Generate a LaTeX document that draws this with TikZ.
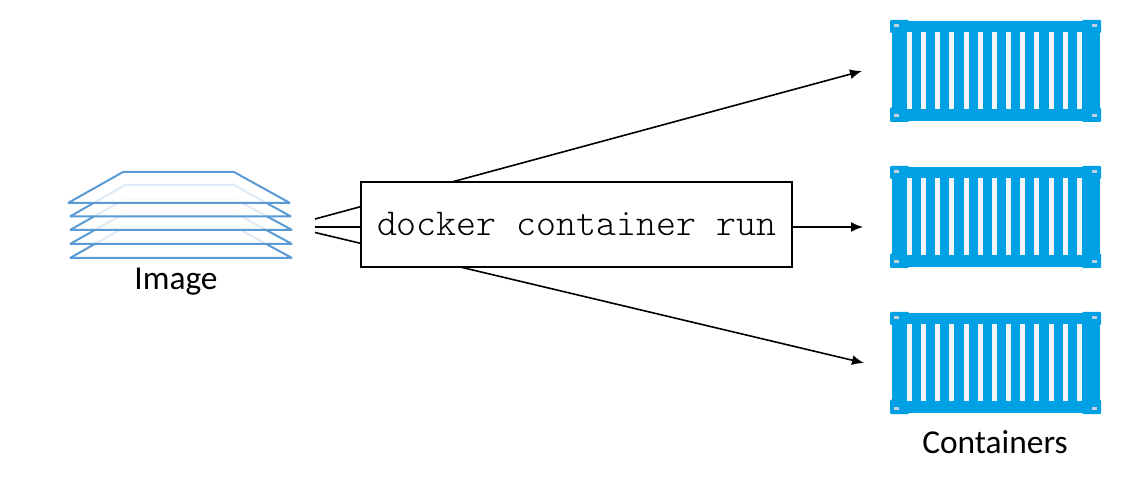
\documentclass[tikz,border=0pt]{standalone}
\usepackage{fontspec}
\setmainfont{Carlito}
\newfontfamily\boxmono{Latin Modern Mono Light}
\usetikzlibrary{arrows.meta}
\definecolor{layerblue}{HTML}{5B9BD5}
\definecolor{contblue}{HTML}{00A1E4}
\definecolor{slatwhite}{HTML}{F2F5FA}
\definecolor{holegray}{HTML}{C5D0DE}
\tikzset{
  x=1pt,y=-1pt,
  layer/.style={draw=layerblue,line width=2pt,fill=white,fill opacity=0.8,line join=bevel},
  conn/.style={draw=black,line width=1.6pt},
  arrowconn/.style={conn,-{Latex[length=12pt,width=10pt]}},
  cmdbox/.style={draw=black,line width=1.6pt,fill=white,minimum width=431pt,minimum height=85pt,inner sep=0pt,font=\boxmono\fontsize{38}{42}\selectfont},
  lbl/.style={inner sep=0pt,font=\fontsize{33.4}{38}\selectfont,text=black},
  container/.pic={
    \fill[contblue] (891.5,21) rectangle (1099.5,121);
    \foreach \a/\b in {890/909,1082/1101}{
      \fill[contblue,rounded corners=1pt] (\a,20) rectangle (\b,33);
      \fill[contblue,rounded corners=1pt] (\a,107.5) rectangle (\b,122);
    }
    \foreach \i in {0,...,12}{
      \fill[slatwhite] ({907+14.15*\i},32) rectangle ({912+14.15*\i},109);
    }
    \foreach \a in {893.5,1092}{
      \fill[holegray] (\a,24) rectangle (\a+5,27);
      \fill[holegray] (\a,114.5) rectangle (\a+5,117.5);
    }
  }
}
\begin{document}
\begin{tikzpicture}
\useasboundingbox (0,0) rectangle (1138,478);
% image layers, bottom to top
\draw[layer] (125,227) -- (235,227) -- (292,258) -- (70,258) -- cycle;
\draw[layer] (125,213) -- (235,213) -- (292,244) -- (70,244) -- cycle;
\draw[layer] (125,199) -- (235,199) -- (292,230) -- (70,230) -- cycle;
\draw[layer] (125,185) -- (234,185) -- (291,216.5) -- (70,216.5) -- cycle;
\draw[layer] (123,172) -- (234,172) -- (290,203) -- (68,203) -- cycle;
\node[lbl] (imagelabel) at (176,282) {Image};
% containers
\pic at (0,0) {container};
\pic at (0,146) {container};
\pic at (0,292) {container};
\node[lbl] (containerslabel) at (995,442) {Containers};
% connectors
\coordinate (s1) at (315,219);
\coordinate (s2) at (315,227);
\coordinate (s3) at (315,232.5);
\coordinate (t1) at (862,71);
\coordinate (t2) at (863,227);
\coordinate (t3) at (864,363);
\draw[arrowconn] (s1) -- (t1);
\draw[arrowconn] (s2) -- (t2);
\draw[arrowconn] (s3) -- (t3);
\node[cmdbox] (cmd) at (576.5,224.5) {docker container run};
\end{tikzpicture}
\end{document}
